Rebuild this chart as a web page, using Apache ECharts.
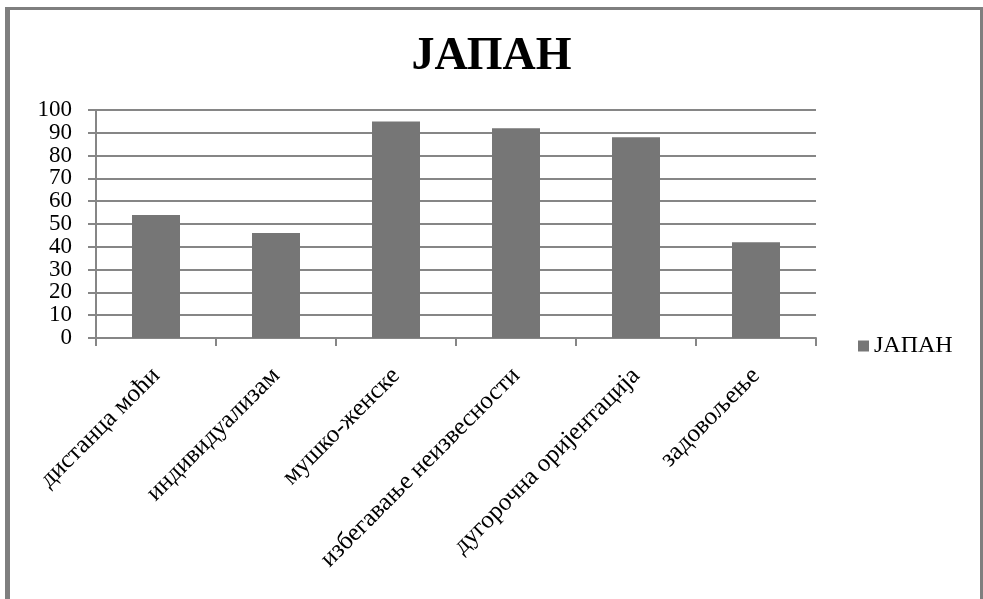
<!DOCTYPE html>
<html>
<head>
<meta charset="utf-8">
<script src="https://cdn.jsdelivr.net/npm/echarts@6/dist/echarts.min.js"></script>
<style>
  html, body { margin: 0; padding: 0; background: #fff; }
  #wrap { position: relative; width: 983px; height: 599px; overflow: hidden; }
  #chart { position: absolute; left: 0; top: 0; width: 983px; height: 599px; }
  .edge { position: absolute; background: #7f7f7f; }
</style>
</head>
<body>
<div id="wrap">
  <div id="chart"></div>
  <div class="edge" style="left:5px; top:7px; width:5px; height:592px;"></div>
  <div class="edge" style="left:5px; top:7px; width:978px; height:3px;"></div>
  <div class="edge" style="left:980px; top:7px; width:3px; height:592px;"></div>
</div>
<script>
// Hofstede dimensions for Japan
const categories = [
  'дистанца моћи',
  'индивидуализам',
  'мушко-женске',
  'избегавање неизвесности',
  'дугорочна оријентација',
  'задовољење'
];
const japanValues = [54, 46, 95, 92, 88, 42];
const seriesName = 'ЈАПАН';
const titleText = 'ЈАПАН';

const serif = 'Liberation Serif';
const gridGray = '#868686';

// The tick labels sit closer together than their font height, so the
// even and odd ticks are labelled by two overlaid value axes to keep
// every label visible.
function valueAxis(showEven, withGrid) {
  return {
    type: 'value',
    position: 'left',
    min: 0,
    max: 100,
    interval: 10,
    axisLine: { show: true, onZero: false, lineStyle: { color: gridGray, width: 2 } },
    axisTick: { show: true, length: 8, lineStyle: { color: gridGray, width: 2 } },
    axisLabel: {
      margin: 24,
      showMinLabel: true,
      showMaxLabel: true,
      fontFamily: serif,
      fontSize: 23,
      color: '#000',
      formatter: v => ((v / 10) % 2 === 0) === showEven ? String(v) : ''
    },
    splitLine: { show: withGrid, lineStyle: { color: gridGray, width: 2 } }
  };
}

const chart = echarts.init(document.getElementById('chart'), null, { renderer: 'canvas' });
chart.setOption({
  animation: false,
  backgroundColor: '#ffffff',
  title: {
    text: titleText,
    left: 'center',
    top: 29,
    textStyle: { fontFamily: serif, fontSize: 46, fontWeight: 'bold', color: '#000' }
  },
  legend: {
    data: [seriesName],
    left: 853,
    top: 329,
    icon: 'rect',
    itemWidth: 11,
    itemHeight: 11,
    itemGap: 6,
    textStyle: { fontFamily: serif, fontSize: 24, color: '#000' }
  },
  grid: { left: 96, right: 167, top: 110, bottom: 261, containLabel: false },
  xAxis: {
    type: 'category',
    data: categories,
    boundaryGap: true,
    axisLine: { lineStyle: { color: gridGray, width: 2 } },
    axisTick: { show: true, length: 8, lineStyle: { color: gridGray, width: 2 } },
    axisLabel: {
      rotate: 45,
      margin: 34,
      interval: 0,
      fontFamily: serif,
      fontSize: 25,
      color: '#000'
    },
    splitLine: { show: false }
  },
  yAxis: [valueAxis(true, true), valueAxis(false, false)],
  series: [{
    name: seriesName,
    type: 'bar',
    yAxisIndex: 0,
    data: japanValues,
    barWidth: 48,
    itemStyle: { color: '#767676' }
  }]
});
</script>
</body>
</html>
